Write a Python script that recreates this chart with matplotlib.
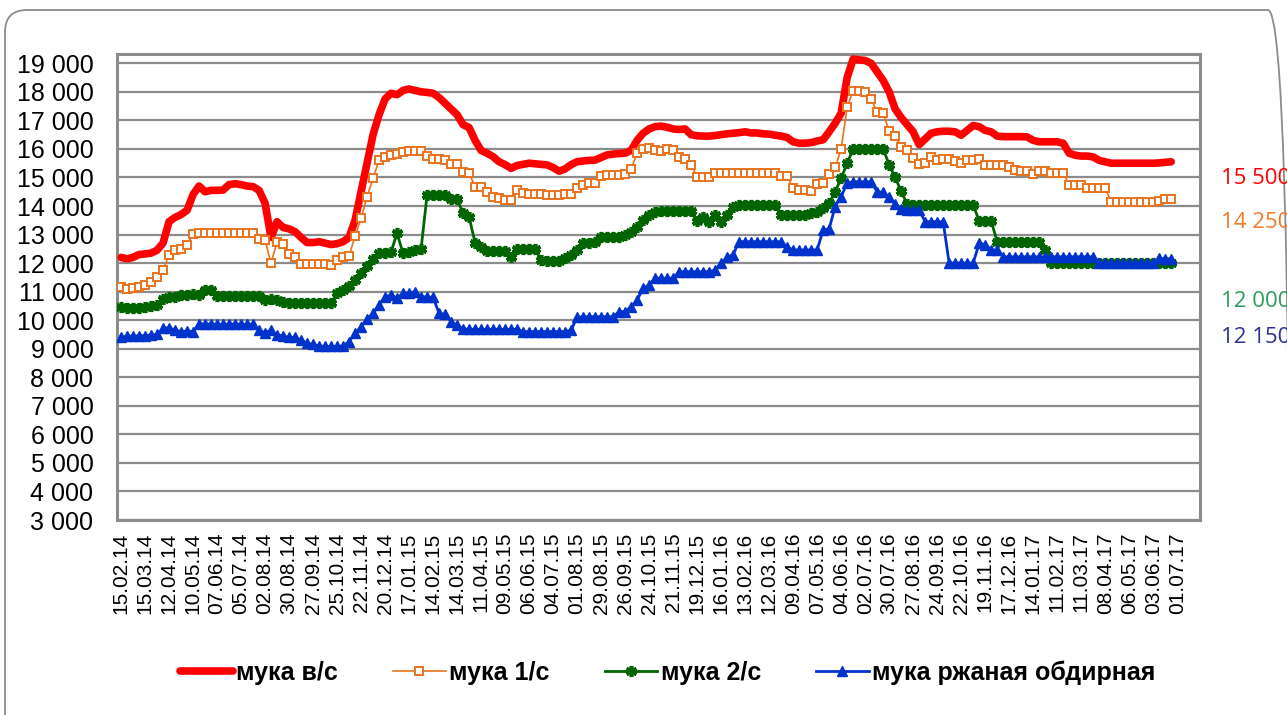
import numpy as np
import matplotlib
matplotlib.use("Agg")
import matplotlib.pyplot as plt
import matplotlib.patches as mpatches
from matplotlib.transforms import IdentityTransform

# ---------------------- Data ---------------------- #
# weekly prices, rub/t, from 15.02.14
flour_top = [
    12200, 12150, 12200, 12300, 12320, 12350, 12450, 12700, 13450, 13600,
    13700, 13850, 14400, 14700, 14500, 14550, 14550, 14560, 14750, 14780,
    14750, 14700, 14680, 14550, 14100, 12900, 13450, 13250, 13200, 13100,
    12900, 12720, 12720, 12750, 12700, 12650, 12680, 12750, 12900, 13500,
    14500, 15500, 16500, 17200, 17750, 17950, 17900, 18050, 18100, 18050,
    18000, 17980, 17950, 17800, 17600, 17400, 17200, 16850, 16750, 16300,
    15950, 15850, 15730, 15550, 15450, 15320, 15420, 15460, 15500, 15480,
    15460, 15440, 15350, 15220, 15300, 15450, 15550, 15580, 15600, 15610,
    15700, 15790, 15820, 15840, 15850, 15950, 16300, 16550, 16700, 16780,
    16800, 16760, 16700, 16680, 16700, 16500, 16460, 16450, 16450, 16470,
    16500, 16530, 16550, 16570, 16600, 16560, 16560, 16530, 16520, 16480,
    16450, 16400, 16250, 16200, 16200, 16220, 16280, 16320, 16600, 16900,
    17250, 18500, 19150, 19120, 19100, 19000, 18700, 18400, 18000, 17400,
    17100, 16850, 16600, 16150, 16350, 16550, 16600, 16620, 16620, 16600,
    16480, 16650, 16820, 16780, 16650, 16600, 16450, 16430, 16430, 16430,
    16430, 16420, 16300, 16250, 16250, 16250, 16250, 16200, 15850, 15780,
    15750, 15750, 15720, 15600, 15550, 15500, 15500, 15500, 15500, 15500,
    15500, 15500, 15500, 15510, 15530, 15550,
]
flour_1 = [
    11150, 11080, 11130, 11180, 11230, 11350, 11520, 11760, 12280, 12460,
    12500, 12630, 13010, 13040, 13040, 13040, 13040, 13040, 13040, 13040,
    13040, 13040, 13040, 12850, 12800, 12000, 12750, 12680, 12320, 12220,
    11970, 11970, 11970, 11970, 11970, 11930, 12110, 12220, 12250, 12950,
    13570, 14330, 14970, 15610, 15700, 15790, 15820, 15900, 15940, 15940,
    15930, 15750, 15650, 15640, 15610, 15470, 15460, 15180, 15150, 14680,
    14660, 14500, 14330, 14270, 14210, 14210, 14560, 14440, 14430, 14430,
    14420, 14390, 14390, 14400, 14410, 14420, 14640, 14740, 14800, 14800,
    15050, 15090, 15090, 15090, 15120, 15290, 15850, 15990, 16040, 15960,
    15930, 16010, 15980, 15700, 15640, 15440, 15030, 15000, 15000, 15150,
    15170, 15170, 15170, 15170, 15170, 15170, 15170, 15170, 15170, 15170,
    15050, 15050, 14620, 14560, 14550, 14540, 14770, 14800, 15120, 15350,
    15990, 17460, 18040, 18040, 18000, 17740, 17300, 17260, 16620, 16470,
    16060, 15960, 15690, 15460, 15500, 15730, 15610, 15640, 15640, 15590,
    15500, 15610, 15610, 15640, 15440, 15440, 15440, 15440, 15380, 15260,
    15240, 15240, 15120, 15240, 15220, 15170, 15170, 15170, 14740, 14740,
    14740, 14620, 14620, 14620, 14620, 14150, 14150, 14150, 14150, 14150,
    14150, 14150, 14150, 14190, 14235, 14250,
]
flour_2 = [
    10470, 10410, 10420, 10440, 10460, 10480, 10530, 10730, 10800, 10830,
    10870, 10900, 10920, 10900, 11060, 11050, 10860, 10860, 10860, 10860,
    10860, 10860, 10860, 10860, 10710, 10730, 10700, 10650, 10590, 10590,
    10590, 10590, 10590, 10590, 10590, 10590, 10940, 11050, 11200, 11420,
    11650, 11900, 12150, 12340, 12340, 12400, 13040, 12340, 12400, 12460,
    12490, 14390, 14390, 14390, 14390, 14230, 14230, 13760, 13620, 12710,
    12570, 12430, 12430, 12430, 12430, 12220, 12490, 12490, 12490, 12490,
    12110, 12090, 12090, 12090, 12170, 12280, 12460, 12690, 12720, 12750,
    12920, 12920, 12900, 12920, 12980, 13100, 13250, 13500, 13700, 13800,
    13820, 13820, 13820, 13820, 13820, 13820, 13480, 13620, 13450, 13680,
    13450, 13680, 13980, 14040, 14040, 14040, 14040, 14040, 14040, 14040,
    13680, 13680, 13680, 13680, 13680, 13740, 13800, 13920, 14090, 14500,
    14970, 15500, 15990, 16000, 16000, 16000, 16000, 16000, 15450, 15000,
    14520, 14060, 14040, 14040, 14040, 14040, 14040, 14040, 14040, 14040,
    14040, 14040, 14040, 13480, 13480, 13480, 12750, 12750, 12750, 12750,
    12750, 12750, 12750, 12750, 12460, 12000, 12000, 12000, 12000, 12000,
    12000, 12000, 12000, 12000, 12000, 12000, 12000, 12000, 12000, 12000,
    12000, 12000, 12000, 12000, 12000, 12000,
]
flour_rye = [
    9400, 9440, 9440, 9450, 9460, 9480, 9500, 9710, 9740, 9650,
    9600, 9620, 9600, 9880, 9860, 9860, 9860, 9860, 9860, 9860,
    9860, 9860, 9860, 9650, 9560, 9650, 9480, 9450, 9400, 9400,
    9300, 9200, 9150, 9100, 9080, 9080, 9080, 9100, 9250, 9540,
    9770, 10030, 10240, 10530, 10820, 10880, 10770, 10940, 10940, 11000,
    10820, 10820, 10800, 10240, 10200, 9950, 9830, 9700, 9680, 9680,
    9680, 9680, 9680, 9680, 9680, 9680, 9680, 9600, 9600, 9600,
    9600, 9600, 9600, 9600, 9600, 9650, 10100, 10120, 10120, 10120,
    10120, 10120, 10120, 10300, 10300, 10470, 10700, 11120, 11230, 11470,
    11470, 11470, 11470, 11700, 11700, 11700, 11700, 11700, 11700, 11750,
    12000, 12200, 12300, 12750, 12750, 12750, 12750, 12750, 12750, 12750,
    12750, 12570, 12460, 12460, 12460, 12460, 12460, 13160, 13200, 13980,
    14330, 14800, 14850, 14850, 14850, 14850, 14500, 14480, 14300, 14060,
    13900, 13860, 13860, 13860, 13450, 13450, 13450, 13450, 12000, 12000,
    12000, 12000, 12000, 12690, 12650, 12460, 12460, 12220, 12220, 12220,
    12220, 12220, 12220, 12220, 12220, 12220, 12220, 12220, 12220, 12220,
    12220, 12220, 12220, 12000, 12000, 12000, 12000, 12000, 12000, 12000,
    12000, 12000, 12000, 12170, 12150, 12150,
]

date_labels = [
    "15.02.14", "15.03.14", "12.04.14", "10.05.14", "07.06.14", "05.07.14",
    "02.08.14", "30.08.14", "27.09.14", "25.10.14", "22.11.14", "20.12.14",
    "17.01.15", "14.02.15", "14.03.15", "11.04.15", "09.05.15", "06.06.15",
    "04.07.15", "01.08.15", "29.08.15", "26.09.15", "24.10.15", "21.11.15",
    "19.12.15", "16.01.16", "13.02.16", "12.03.16", "09.04.16", "07.05.16",
    "04.06.16", "02.07.16", "30.07.16", "27.08.16", "24.09.16", "22.10.16",
    "19.11.16", "17.12.16", "14.01.17", "11.02.17", "11.03.17", "08.04.17",
    "06.05.17", "03.06.17", "01.07.17",
]
label_step = 4  # weeks between date labels

series_names = ["мука в/с", "мука 1/с", "мука 2/с", "мука ржаная обдирная"]
last_prices = ["15 500", "14 250", "12 000", "12 150"]

# ---------------------- Plot ---------------------- #
plt.rcParams["font.family"] = ["Liberation Sans", "DejaVu Sans"]

fig = plt.figure(figsize=(12.87, 7.15), dpi=100)
ax = fig.add_axes([117 / 1287, 1 - 520 / 715, (1200 - 117) / 1287, (520 - 54) / 715])

weeks = np.arange(len(flour_top))

ax.plot(weeks, flour_top, color="#ff0000", lw=5.5, solid_capstyle="round",
        solid_joinstyle="round", label=series_names[0], zorder=3)
ax.plot(weeks, flour_1, color="#e8731c", lw=1.2, marker="s", ms=5.5,
        mfc="white", mec="#e8731c", mew=1.4, label=series_names[1], zorder=4)
ax.plot(weeks, flour_2, color="#006400", lw=2, marker=(6, 2, 0), ms=8,
        mec="#006400", mew=2.6, label=series_names[2], zorder=5)
ax.plot(weeks, flour_rye, color="#0033cc", lw=2, marker="^", ms=7,
        mfc="#0033cc", mec="#0033cc", label=series_names[3], zorder=6)

# axes
ax.set_ylim(3000, 19326)
ax.set_xlim(-0.67, 179.8)
yt = np.arange(3000, 19001, 1000)
ax.set_yticks(yt)
ax.set_yticklabels([f"{v:,}".replace(",", " ") for v in yt], fontsize=18)
ax.set_xticks(np.arange(len(date_labels)) * label_step)
ax.set_xticklabels(date_labels, rotation=90, fontsize=15)
ax.tick_params(axis="y", length=0, pad=17)
ax.tick_params(axis="x", length=0, pad=9)
ax.grid(axis="y", color="#8c8c8c", lw=1.6, zorder=0)
for s in ax.spines.values():
    s.set_color("#8c8c8c")
    s.set_linewidth(2.2)

# legend
leg = fig.legend(loc="center", bbox_to_anchor=(0.519, 1 - 673 / 715), ncol=4,
                 frameon=False, handlelength=2.1, handletextpad=0.15,
                 columnspacing=2.2, numpoints=1,
                 prop={"weight": "bold", "size": 18})

# last values on the right
colors_right = ["#ff0000", "#f7782a", "#2e9a5c", "#2e3192"]
ys_right = [178, 222, 302, 338]
for txt, c, yp in zip(last_prices, colors_right, ys_right):
    fig.text(1221 / 1287, 1 - yp / 715, txt, color=c, fontsize=16,
             family=["Open Sans", "DejaVu Sans"], va="center", ha="left")

# chart border
border = mpatches.FancyBboxPatch((5, -30), 1285, 735, boxstyle="round,pad=0,rounding_size=22",
                                 transform=IdentityTransform(), fill=False,
                                 ec="#8c8c8c", lw=1.3)
fig.add_artist(border)

fig.savefig("out.png", dpi=100)
